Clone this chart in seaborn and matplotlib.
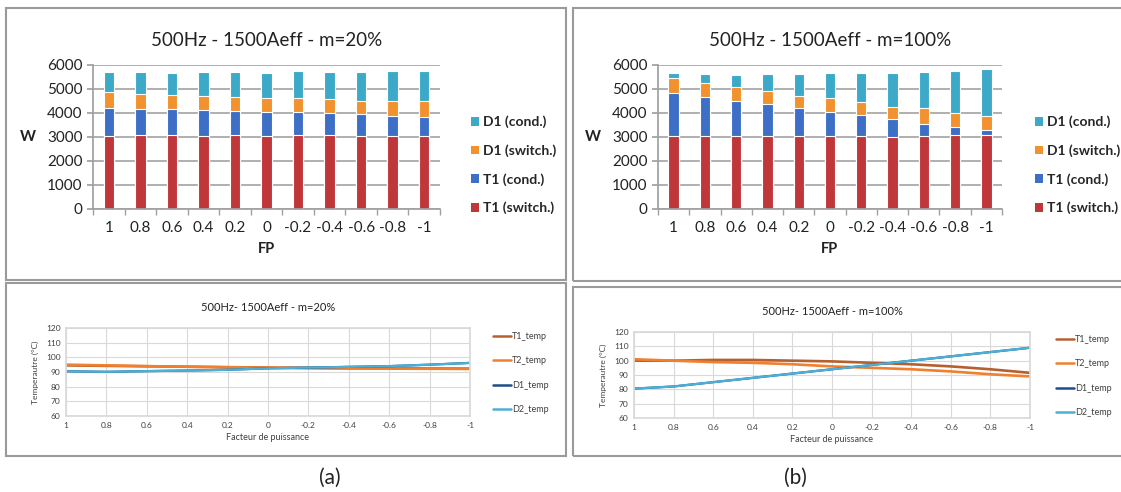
import numpy as np
import pandas as pd
import matplotlib
matplotlib.use('Agg')
import matplotlib.pyplot as plt
import seaborn as sns
from matplotlib.patches import Rectangle, Patch
from matplotlib.lines import Line2D

# Data #
########

fp_labels = ['1', '0.8', '0.6', '0.4', '0.2', '0', '-0.2', '-0.4', '-0.6', '-0.8', '-1']
loss_names = ['T1 (switch.)', 'T1 (cond.)', 'D1 (switch.)', 'D1 (cond.)']

# losses (W), m=20%
t1_sw_20 = [3060, 3100, 3100, 3060, 3100, 3060, 3100, 3100, 3060, 3060, 3060]
t1_co_20 = [1140, 1050, 1050, 1070, 990, 970, 930, 890, 890, 820, 790]
d1_sw_20 = [660, 640, 600, 580, 590, 610, 610, 590, 570, 640, 670]
d1_co_20 = [860, 930, 900, 980, 1010, 1010, 1110, 1110, 1170, 1230, 1230]

# losses (W), m=100%
t1_sw_100 = [3060, 3060, 3060, 3060, 3060, 3060, 3060, 3020, 3060, 3090, 3090]
t1_co_100 = [1790, 1590, 1450, 1330, 1160, 1000, 860, 720, 490, 340, 210]
d1_sw_100 = [590, 590, 590, 540, 490, 550, 530, 530, 650, 590, 590]
d1_co_100 = [240, 370, 480, 680, 900, 1040, 1200, 1380, 1490, 1740, 1930]

# temperatures (degC)
t1_temp_20 = [94.5, 94.2, 93.9, 93.6, 93.3, 93.0, 92.8, 92.6, 92.5, 92.4, 92.3]
t2_temp_20 = [95.0, 94.5, 94.0, 93.6, 93.2, 92.9, 92.6, 92.4, 92.3, 92.2, 92.1]
d1_temp_20 = [90.5, 90.1, 90.6, 91.0, 91.5, 92.5, 93.0, 93.5, 94.0, 95.0, 96.2]
d2_temp_20 = [90.5, 90.1, 90.6, 91.0, 91.5, 92.5, 93.0, 93.5, 94.0, 95.0, 96.2]

t1_temp_100 = [100.0, 100.0, 100.5, 100.5, 100.0, 99.5, 98.5, 97.5, 96.0, 94.0, 91.5]
t2_temp_100 = [101.0, 100.0, 99.0, 98.5, 97.5, 96.0, 95.0, 94.0, 92.5, 90.5, 89.0]
d1_temp_100 = [80.5, 82.0, 85.0, 88.0, 91.0, 94.0, 97.0, 100.0, 103.0, 106.0, 109.0]
d2_temp_100 = [80.5, 82.0, 85.0, 88.0, 91.0, 94.0, 97.0, 100.0, 103.0, 106.0, 109.0]

bar_colors = ['#C0373A', '#3D6FC7', '#F2922E', '#3CA9C9']
line_names = ['T1_temp', 'T2_temp', 'D1_temp', 'D2_temp']
line_colors = ['#B5612F', '#F07F2E', '#1F4E8C', '#4BB0D6']

sns.set_theme(style='white')
plt.rcParams['font.family'] = ['Lato', 'DejaVu Sans']

fig = plt.figure(figsize=(11.21, 4.92), dpi=100)
W, H = 1121, 492


def fig_rect(x0, y0, x1, y1):
    # pixel box -> figure fraction [left, bottom, width, height]
    return [x0 / W, 1 - y1 / H, (x1 - x0) / W, (y1 - y0) / H]


# panel frames
for (x0, y0, x1, y1) in [(6, 8, 566, 280), (6, 283, 566, 456),
                         (573, 8, 1125, 281), (573, 287, 1125, 456)]:
    fig.patches.append(Rectangle((x0 / W, 1 - y1 / H), (x1 - x0) / W, (y1 - y0) / H,
                                 transform=fig.transFigure, fill=False,
                                 edgecolor='#9A9A9A', lw=1.5))


def stacked(ax, parts, title):
    df = pd.DataFrame({'FP': fp_labels})
    cum = np.zeros(len(fp_labels))
    tops = []
    for p in parts:
        cum = cum + np.array(p)
        tops.append(cum.copy())
    # draw tallest first so lower segments sit on top
    for top, col in reversed(list(zip(tops, bar_colors))):
        df['v'] = top
        sns.barplot(data=df, x='FP', y='v', color=col, width=0.33, ax=ax,
                    saturation=1, edgecolor='white', linewidth=0.8)
    ax.set_ylim(0, 6000)
    ax.set_xlim(-0.5, len(fp_labels) - 0.5)
    ax.set_yticks(range(0, 6001, 1000))
    ax.yaxis.grid(True, color='#9A9A9A', lw=1.1)
    ax.set_axisbelow(True)
    for s in ['top', 'right']:
        ax.spines[s].set_visible(False)
    for s in ['left', 'bottom']:
        ax.spines[s].set_color('#A0A0A0')
    ax.set_xticks(np.arange(-0.5, len(fp_labels)), minor=True)
    ax.tick_params(axis='x', which='minor', length=4, color='#A0A0A0', bottom=True)
    ax.tick_params(axis='x', which='major', length=0, labelsize=11, pad=9, colors='#222222')
    ax.tick_params(axis='y', length=4, labelsize=11, colors='#222222', left=True, color='#A0A0A0')
    ax.set_xlabel('FP', fontsize=10.5, fontweight='bold', color='#222222', labelpad=5)
    ax.set_ylabel('W', fontsize=11, fontweight='bold', color='#222222', rotation=0,
                  labelpad=14, va='center')
    ax.set_title(title, fontsize=13.5, color='#222222', pad=14)


def temps(ax, series, title):
    pos = np.arange(len(fp_labels))
    for vals, name, col in zip(series, line_names, line_colors):
        lw = 1.9 if name.startswith('T') else 1.6
        sns.lineplot(x=pos, y=vals, ax=ax, color=col, lw=lw, label=name, legend=False)
    ax.set_xlim(0, len(fp_labels) - 1)
    ax.set_ylim(60, 120)
    ax.set_xticks(pos, fp_labels)
    ax.set_yticks(range(60, 121, 10))
    ax.grid(True, color='#D9D9D9', lw=0.8)
    for s in ax.spines.values():
        s.set_color('#D9D9D9')
    ax.tick_params(labelsize=6, colors='#404040', length=0, pad=4)
    ax.set_xlabel('Facteur de puissance', fontsize=6.5, color='#404040', labelpad=3)
    ax.set_ylabel('Temperautre (°C)', fontsize=6, color='#404040', labelpad=5)
    ax.set_title(title, fontsize=8, color='#222222', pad=12)


ax1 = fig.add_axes(fig_rect(93, 65, 440, 209))
stacked(ax1, [t1_sw_20, t1_co_20, d1_sw_20, d1_co_20], '500Hz - 1500Aeff - m=20%')
ax2 = fig.add_axes(fig_rect(658, 65, 1002, 209))
stacked(ax2, [t1_sw_100, t1_co_100, d1_sw_100, d1_co_100], '500Hz - 1500Aeff - m=100%')

ax3 = fig.add_axes(fig_rect(66, 328, 470, 416))
temps(ax3, [t1_temp_20, t2_temp_20, d1_temp_20, d2_temp_20], '500Hz- 1500Aeff - m=20%')
ax4 = fig.add_axes(fig_rect(634, 332, 1030, 418))
temps(ax4, [t1_temp_100, t2_temp_100, d1_temp_100, d2_temp_100], '500Hz- 1500Aeff - m=100%')

# legends
bar_handles = [Patch(facecolor=c, edgecolor='none') for c in bar_colors][::-1]
for ax, x in [(ax1, 458 / W), (ax2, 1022 / W)]:
    fig.legend(bar_handles, loss_names[::-1], loc='center left',
               bbox_to_anchor=(x, 1 - 165 / H), frameon=False,
               handlelength=0.6, handleheight=0.6, handletextpad=0.3,
               labelspacing=1.15, prop={'weight': 'bold', 'size': 10})

line_handles = [Line2D([], [], color=c, lw=1.8) for c in line_colors]
for x, yc in [(485 / W, 373), (1048 / W, 376)]:
    fig.legend(line_handles, line_names, loc='center left',
               bbox_to_anchor=(x, 1 - yc / H), frameon=False, fontsize=6.5,
               handlelength=2.0, handletextpad=0.05, labelspacing=1.7,
               labelcolor='#404040')

fig.text(330 / W, 1 - 478 / H, '(a)', fontsize=15, ha='center', va='center', color='#222222')
fig.text(795 / W, 1 - 478 / H, '(b)', fontsize=15, ha='center', va='center', color='#222222')

fig.savefig('out.png', dpi=100)
